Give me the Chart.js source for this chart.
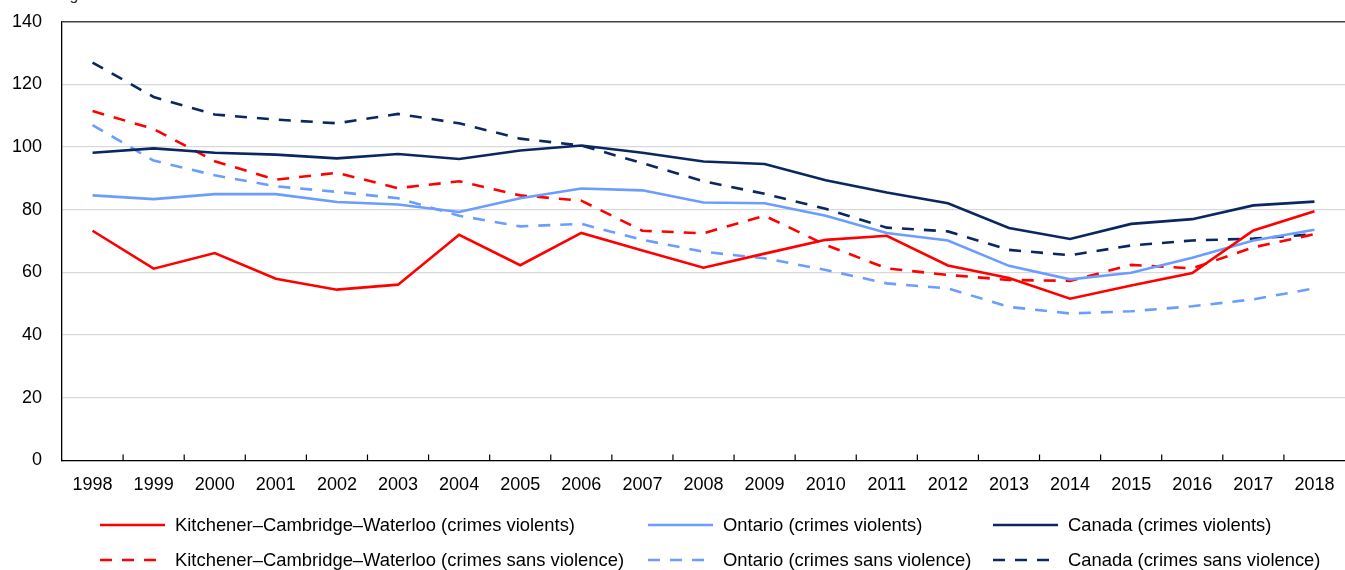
<!DOCTYPE html>
<html>
<head>
<meta charset="utf-8">
<script src="https://cdn.jsdelivr.net/npm/chart.js@4.4.1/dist/chart.umd.min.js"></script>
<style>
  html, body { margin: 0; padding: 0; background: #fff; }
  body { width: 1345px; height: 570px; position: relative; overflow: hidden; font-family: "Liberation Sans", Arial, sans-serif; }
  #topnote { position: absolute; left: 0; top: -14px; font-size: 16px; color: #333; white-space: nowrap; z-index: 2; }
  #wrap { position: absolute; left: 0; top: -9px; width: 1345px; height: 518px; }
  #legend { position: absolute; left: 0; top: 505px; width: 1345px; height: 65px; }
  .item { position: absolute; height: 22px; display: flex; align-items: center; font-size: 18.4px; color: #000; white-space: nowrap; }
  .item svg { margin-right: 10px; }
</style>
</head>
<body>
<div id="wrap"><canvas id="c"></canvas></div>
<div id="topnote">Indice de gravité de la criminalité</div>
<div id="legend"></div>
<script>
const years = ["1998","1999","2000","2001","2002","2003","2004","2005","2006","2007","2008","2009","2010","2011","2012","2013","2014","2015","2016","2017","2018"];
const yTicks = [0, 20, 40, 60, 80, 100, 120, 140];

const kcwViolent    = [73.3, 61.2, 66.2, 58.0, 54.5, 56.1, 72.0, 62.3, 72.6, 67.0, 61.5, 66.0, 70.4, 71.7, 62.2, 58.2, 51.6, 55.8, 59.8, 73.4, 79.5];
const ontViolent    = [84.6, 83.4, 85.0, 85.0, 82.5, 81.7, 79.3, 83.7, 86.8, 86.2, 82.3, 82.1, 78.1, 72.6, 70.2, 62.1, 57.8, 59.9, 64.7, 70.2, 73.6];
const canViolent    = [98.2, 99.6, 98.2, 97.6, 96.4, 97.8, 96.2, 98.9, 100.5, 98.2, 95.4, 94.6, 89.4, 85.5, 82.1, 74.2, 70.7, 75.5, 77.0, 81.4, 82.6];
const kcwNonViolent = [111.5, 105.8, 95.5, 89.6, 91.8, 86.9, 89.1, 84.6, 82.9, 73.3, 72.5, 78.1, 68.8, 61.3, 59.2, 57.6, 57.3, 62.4, 61.3, 68.0, 72.2];
const ontNonViolent = [107.0, 95.7, 91.0, 87.5, 85.7, 83.7, 78.1, 74.7, 75.5, 70.4, 66.6, 64.5, 60.8, 56.5, 54.9, 49.0, 46.9, 47.6, 49.2, 51.4, 54.9];
const canNonViolent = [127.0, 116.0, 110.4, 108.8, 107.6, 110.6, 107.6, 102.7, 100.5, 94.9, 89.1, 85.1, 80.3, 74.3, 73.1, 67.2, 65.5, 68.6, 70.2, 70.8, 72.2];

const labels = [
  "Kitchener\u2013Cambridge\u2013Waterloo (crimes violents)",
  "Ontario (crimes violents)",
  "Canada (crimes violents)",
  "Kitchener\u2013Cambridge\u2013Waterloo (crimes sans violence)",
  "Ontario (crimes sans violence)",
  "Canada (crimes sans violence)"
];

const RED = "#ff0000", LBLUE = "#6b9cff", NAVY = "#0b2760";
const DASH = [12, 10];

function ds(label, data, color, dashed) {
  return {
    label, data,
    borderColor: color, backgroundColor: color,
    borderWidth: 2.6,
    borderDash: dashed ? DASH : [],
    pointRadius: 0, pointHoverRadius: 0,
    tension: 0, fill: false
  };
}

const datasets = [
  ds(labels[0], kcwViolent, RED, false),
  ds(labels[1], ontViolent, LBLUE, false),
  ds(labels[2], canViolent, NAVY, false),
  ds(labels[3], kcwNonViolent, RED, true),
  ds(labels[4], ontNonViolent, LBLUE, true),
  ds(labels[5], canNonViolent, NAVY, true)
];

// upward tick marks at category boundaries on the x axis
const innerTicks = {
  id: "innerTicks",
  afterDatasetsDraw(chart) {
    const x = chart.scales.x, y = chart.scales.y;
    const ctx = chart.ctx;
    const base = y.getPixelForValue(0);
    ctx.save();
    ctx.strokeStyle = "#000";
    ctx.lineWidth = 1.2;
    ctx.beginPath();
    for (let i = 0; i < years.length - 1; i++) {
      const px = (x.getPixelForValue(i) + x.getPixelForValue(i + 1)) / 2;
      ctx.moveTo(px, base);
      ctx.lineTo(px, base - 6);
    }
    ctx.stroke();
    ctx.restore();
  }
};

const FONT = "'Liberation Sans', Arial, sans-serif";

new Chart(document.getElementById("c"), {
  type: "line",
  data: { labels: years, datasets },
  options: {
    responsive: true,
    maintainAspectRatio: false,
    animation: false,
    layout: { padding: { left: 0, right: 0, top: 3, bottom: 7 } },
    plugins: { legend: { display: false }, tooltip: { enabled: false } },
    scales: {
      x: {
        offset: true,
        grid: { display: false },
        border: { display: true, color: "#000", width: 1.3 },
        ticks: { color: "#000", font: { family: FONT, size: 18 }, padding: 6, maxRotation: 0, autoSkip: false }
      },
      y: {
        min: 0, max: 140,
        afterBuildTicks(scale) { scale.ticks = yTicks.map(v => ({ value: v })); },
        afterFit(scale) { scale.width = 62; },
        grid: {
          drawTicks: false,
          color: ctx => (ctx.tick && ctx.tick.value === 140) ? "#444" : "#d9d9d9",
          lineWidth: ctx => (ctx.tick && ctx.tick.value === 140) ? 1.6 : 1.3
        },
        border: { display: true, color: "#000", width: 1.3 },
        ticks: { color: "#000", font: { family: FONT, size: 18 }, padding: 20 }
      }
    }
  },
  plugins: [innerTicks]
});

// HTML legend in three aligned columns, two rows
const legend = document.getElementById("legend");
const colX = [100, 648, 993];
const rowY = [9, 44];
datasets.forEach((d, i) => {
  const col = i % 3, row = Math.floor(i / 3);
  const item = document.createElement("div");
  item.className = "item";
  item.style.left = colX[col] + "px";
  item.style.top = rowY[row] + "px";
  const dash = d.borderDash.length ? `stroke-dasharray="${d.borderDash.join(" ")}"` : "";
  item.innerHTML = `<svg width="65" height="6"><line x1="0" y1="3" x2="65" y2="3" stroke="${d.borderColor}" stroke-width="2.6" ${dash}/></svg><span>${d.label}</span>`;
  legend.appendChild(item);
});
</script>
</body>
</html>
